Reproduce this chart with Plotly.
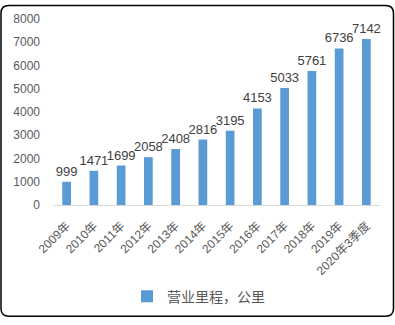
import plotly.graph_objects as go

categories = ["2009年", "2010年", "2011年", "2012年", "2013年", "2014年", "2015年",
              "2016年", "2017年", "2018年", "2019年", "2020年3季度"]
values = [999, 1471, 1699, 2058, 2408, 2816, 3195, 4153, 5033, 5761, 6736, 7142]
series_name = "营业里程，公里"

W, H = 395, 325
L, R, T, B = 53, 15, 15, 117
pw, ph = W - L - R, H - T - B

def px2paper(x, y):
    return (x - L) / pw, (H - B - y) / ph

r = 8
x0, y0, x1, y1 = 1, 1, W - 1.5, H - 1.5
def P(x, y):
    a, b = px2paper(x, y)
    return f"{a:.5f},{b:.5f}"
path = (f"M {P(x0 + r, y0)} L {P(x1 - r, y0)} Q {P(x1, y0)} {P(x1, y0 + r)} "
        f"L {P(x1, y1 - r)} Q {P(x1, y1)} {P(x1 - r, y1)} "
        f"L {P(x0 + r, y1)} Q {P(x0, y1)} {P(x0, y1 - r)} "
        f"L {P(x0, y0 + r)} Q {P(x0, y0)} {P(x0 + r, y0)} Z")

font_family = "Liberation Sans, Noto Sans CJK SC, sans-serif"

fig = go.Figure()
fig.add_trace(go.Bar(
    x=categories, y=values, name=series_name,
    marker=dict(color="#5B9BD5", line=dict(width=0)),
    width=0.32,
    text=[str(v) for v in values], textposition="outside",
    textfont=dict(size=13, color="#404040", family=font_family),
    constraintext="none",
    cliponaxis=False,
    showlegend=True,
))

lx, _ = px2paper(127, 0)
fig.update_layout(
    width=W, height=H,
    margin=dict(l=L, r=R, t=T, b=B),
    paper_bgcolor="white", plot_bgcolor="white",
    font=dict(family=font_family, color="#595959"),
    showlegend=True,
    legend=dict(orientation="h", x=lx, xanchor="left", y=px2paper(0, 303)[1],
                yanchor="middle", font=dict(size=14, color="#595959"),
                itemwidth=30),
    xaxis=dict(tickangle=-45, tickfont=dict(size=12, color="#595959"),
               showline=True, linecolor="#D9D9D9", linewidth=1,
               ticks="", showgrid=False, ticklabelstandoff=8),
    yaxis=dict(range=[0, 8000], dtick=1000, tickfont=dict(size=12, color="#595959"),
               showgrid=False, zeroline=False, showline=False, ticks="",
               ticklabelstandoff=12),
    shapes=[dict(type="path", path=path, xref="paper", yref="paper",
                 line=dict(color="black", width=1.5), layer="above")],
)

fig.write_html("out.html")
